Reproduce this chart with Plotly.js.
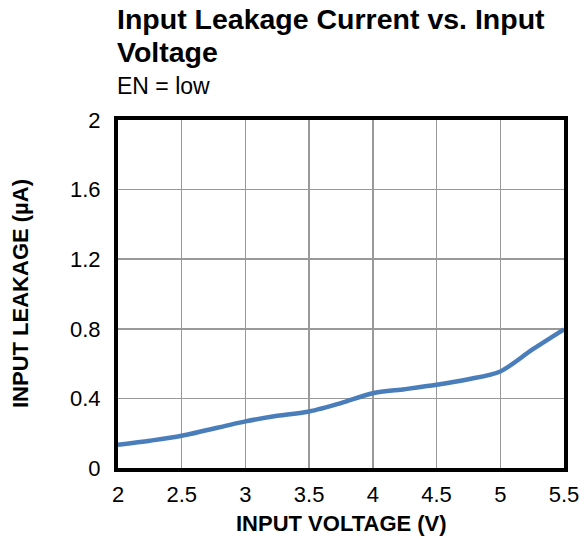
<!DOCTYPE html>
<html>
<head>
<meta charset="utf-8">
<script src="https://cdn.plot.ly/plotly-3.0.1.min.js"></script>
<style>html,body{margin:0;padding:0;background:#fff}#chart{width:580px;height:537px}</style>
</head>
<body>
<div id="chart"></div>
<script>
const inputVoltage = [2, 2.25, 2.5, 3, 3.25, 3.5, 3.75, 4, 4.25, 4.5, 4.75, 5, 5.25, 5.5];
const leakageCurrent = [0.134, 0.157, 0.185, 0.268, 0.30, 0.325, 0.373, 0.43, 0.453, 0.478, 0.51, 0.555, 0.68, 0.797];
const xTicks = [2, 2.5, 3, 3.5, 4, 4.5, 5, 5.5];
const yTicks = [0, 0.4, 0.8, 1.2, 1.6, 2];
const yTickLabels = ['0', '0.4', '0.8', '1.2', '1.6', '2'];

const font = 'Liberation Sans, Arial, sans-serif';
const plotH = 348;
function py(px) { return (468 - px) / plotH; }

Plotly.newPlot('chart', [{
  x: inputVoltage,
  y: leakageCurrent,
  type: 'scatter',
  mode: 'lines',
  line: {color: '#4a7ebb', width: 4.5, shape: 'spline', smoothing: 0.8},
  hoverinfo: 'skip'
}], {
  width: 580, height: 537,
  margin: {l: 118, r: 16, t: 120, b: 69},
  paper_bgcolor: '#ffffff', plot_bgcolor: '#ffffff',
  showlegend: false,
  font: {family: font, color: '#000'},
  xaxis: {
    range: [2, 5.5], tickvals: xTicks, ticktext: xTicks.map(String),
    showgrid: true, gridcolor: '#999999', gridwidth: 1.5,
    showline: true, mirror: true, linecolor: '#000', linewidth: 4,
    ticks: '', tickfont: {size: 22, family: font}, zeroline: false,
    ticklabelstandoff: 4, automargin: false
  },
  yaxis: {
    range: [0, 2], tickvals: yTicks, ticktext: yTickLabels,
    showgrid: true, gridcolor: '#999999', gridwidth: 1.5,
    showline: true, mirror: true, linecolor: '#000', linewidth: 4,
    ticks: '', tickfont: {size: 22, family: font}, zeroline: false,
    ticklabelstandoff: 9, automargin: false
  },
  annotations: [
    {text: '<b>Input Leakage Current vs. Input</b>', xref: 'paper', yref: 'paper', x: 0, xanchor: 'left', xshift: -2, y: py(19), yanchor: 'middle', showarrow: false, borderpad: 0, font: {size: 28.5, family: font, color: '#000'}},
    {text: '<b>Voltage</b>', xref: 'paper', yref: 'paper', x: 0, xanchor: 'left', xshift: -2, y: py(52), yanchor: 'middle', showarrow: false, borderpad: 0, font: {size: 28.5, family: font, color: '#000'}},
    {text: 'EN = low', xref: 'paper', yref: 'paper', x: 0, xanchor: 'left', xshift: -2, y: py(86), yanchor: 'middle', showarrow: false, borderpad: 0, font: {size: 23, family: font, color: '#000'}},
    {text: '<b>INPUT VOLTAGE (V)</b>', xref: 'paper', yref: 'paper', x: 0.5, xanchor: 'center', y: 0, yanchor: 'middle', yshift: -55, showarrow: false, font: {size: 22, family: font, color: '#000'}},
    {text: '<b>INPUT LEAKAGE (µA)</b>', xref: 'paper', yref: 'paper', x: 0, xanchor: 'center', xshift: -98, y: 0.5, yanchor: 'middle', textangle: -90, showarrow: false, font: {size: 22, family: font, color: '#000'}}
  ]
}, {displayModeBar: false, staticPlot: true});
</script>
</body>
</html>
